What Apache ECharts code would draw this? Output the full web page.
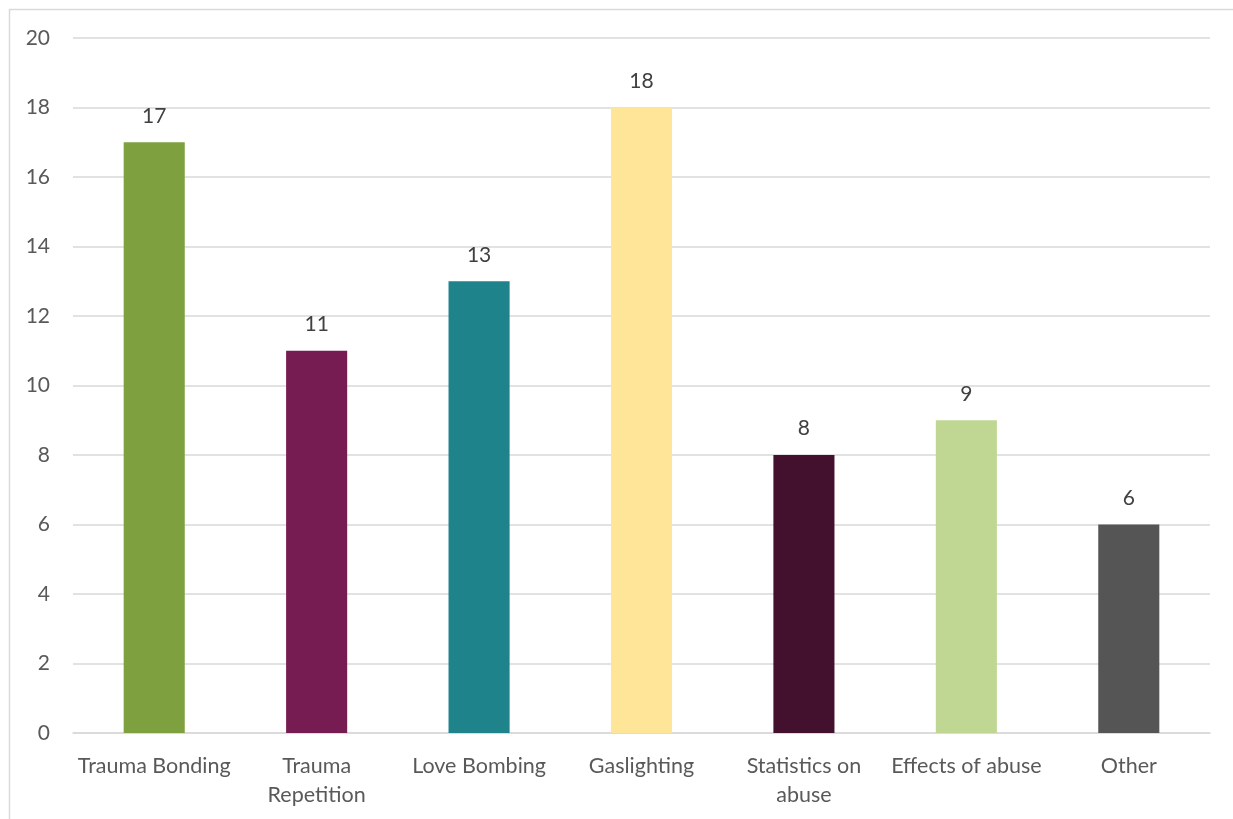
<!DOCTYPE html>
<html><head><meta charset="utf-8">
<script src="https://cdn.jsdelivr.net/npm/echarts@6/dist/echarts.min.js"></script>
<style>html,body{margin:0;padding:0;background:#fff}#c{width:1233px;height:819px}</style>
</head><body><div id="c"></div>
<script>
const categories = ['Trauma Bonding','Trauma\nRepetition','Love Bombing','Gaslighting','Statistics on\nabuse','Effects of abuse','Other'];
const values = [17, 11, 13, 18, 8, 9, 6];
const colors = ['#7EA03F','#771B53','#1E838B','#FEE598','#43112E','#BFD793','#555555'];
const yTicks = {min:0, max:20, interval:2};

const chart = echarts.init(document.getElementById('c'), null, {renderer:'canvas'});
const font = 'Lato, "Open Sans", sans-serif';
chart.setOption({
  animation:false,
  backgroundColor:'#fff',
  graphic:[{type:'rect', shape:{x:9.5,y:9.5,width:1300,height:900}, style:{fill:'none', stroke:'#D9D9D9', lineWidth:1.5}, silent:true}],
  grid:{left:73, right:23, top:38, bottom:86},
  xAxis:{type:'category', data:categories,
    axisLine:{lineStyle:{color:'#D9D9D9', width:1.5}}, axisTick:{show:false},
    axisLabel:{color:'#595959', fontSize:21.5, fontFamily:font, margin:19, lineHeight:29, interval:0}},
  yAxis:{type:'value', min:yTicks.min, max:yTicks.max, interval:yTicks.interval,
    splitLine:{lineStyle:{color:'#D9D9D9', width:1.5}}, axisLine:{show:false}, axisTick:{show:false},
    axisLabel:{color:'#595959', fontSize:21, fontFamily:font, margin:23}},
  series:[{type:'bar', barWidth:'37.6%',
    data: values.map((v,i)=>({value:v, itemStyle:{color:colors[i]}})),
    label:{show:true, position:'top', distance:16, color:'#404040', fontSize:21, fontFamily:font}}]
});
</script></body></html>
